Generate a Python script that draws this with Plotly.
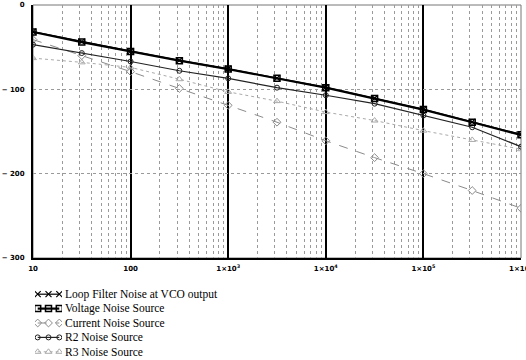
import plotly.graph_objects as go

# ---- data ----
freq = [10, 31.6, 100, 316, 1000, 3162, 10000, 31623, 100000, 316228, 1000000]
loop_filter_vco = [-31.5, -43.5, -54.6, -65.6, -75.6, -86.7, -97.7, -110.6, -123.6, -138.6, -153.5]
voltage_noise = [-32, -44, -55, -66, -76, -87, -98, -111, -124, -139, -154]
current_noise = [-41, -60, -79, -99, -119, -139, -161, -181, -200, -220, -241]
r2_noise = [-47, -57, -67, -78, -87, -98, -107, -117, -131, -145, -168]
r3_noise = [-63, -68, -74, -88, -103, -114, -127, -137, -149, -160, -171]

names = ["Loop Filter Noise at VCO output", "Voltage Noise Source",
         "Current Noise Source", "R2 Noise Source", "R3 Noise Source"]
x_tickvals = [10, 100, 1e3, 1e4, 1e5, 1e6]
x_ticktext = ["10", "100", "1×10<sup>3</sup>", "1×10<sup>4</sup>",
              "1×10<sup>5</sup>", "1×10<sup>6</sup>"]
y_tickvals = [0, -100, -200, -300]
y_ticktext = ["0", "− 100", "− 200", "− 300"]

series = [loop_filter_vco, voltage_noise, current_noise, r2_noise, r3_noise]
styles = [
    dict(line=dict(color="black", width=1.2),
         marker=dict(symbol="x-thin-open", size=6, line=dict(color="black", width=1.2))),
    dict(line=dict(color="black", width=2.2),
         marker=dict(symbol="square-open", size=6, color="black", line=dict(color="black", width=1.5))),
    dict(line=dict(color="#8a8a8a", width=1, dash="dash"),
         marker=dict(symbol="diamond-open", size=6, color="#8a8a8a", line=dict(color="#8a8a8a", width=1))),
    dict(line=dict(color="#222222", width=1.2),
         marker=dict(symbol="circle-open", size=5, color="#222222", line=dict(color="#222222", width=1))),
    dict(line=dict(color="#aaaaaa", width=1, dash="dot"),
         marker=dict(symbol="triangle-up-open", size=6, color="#aaaaaa", line=dict(color="#aaaaaa", width=1))),
]

fig = go.Figure()
# draw order: lower series first, total last
for idx in [4, 2, 3, 1, 0]:
    fig.add_trace(go.Scatter(x=freq, y=series[idx], mode="lines+markers",
                             name=names[idx], showlegend=False,
                             xaxis="x", yaxis="y", **styles[idx]))

# legend keys on a hidden helper axis
for i, st in enumerate(styles):
    fig.add_trace(go.Scatter(x=[0.1, 0.5, 0.9], y=[i, i, i], mode="lines+markers",
                             showlegend=False, hoverinfo="skip",
                             xaxis="x2", yaxis="y2", **st))
    fig.add_annotation(text=names[i], xref="paper", yref="y2",
                       x=(63 - 33) / 488, y=i, xanchor="left", yanchor="middle",
                       showarrow=False,
                       font=dict(family="Liberation Serif", size=11.5, color="black"))

W, H = 526, 360
ml, mr, mt, mb = 33, 5, 5, 0
ph = H - mt - mb
plot_bottom = 258
y_dom0 = (H - plot_bottom) / ph

tick_font = dict(family="DejaVu Sans", size=7, color="black", weight="bold")

fig.update_layout(
    width=W, height=H, autosize=False,
    margin=dict(l=ml, r=mr, t=mt, b=mb, autoexpand=False),
    paper_bgcolor="white", plot_bgcolor="white",
    showlegend=False,
    xaxis=dict(type="log", range=[1, 6], domain=[0, 1], anchor="y",
               tickvals=x_tickvals, ticktext=x_ticktext,
               showgrid=True, gridcolor="black", gridwidth=1.6,
               minor=dict(dtick="D1", showgrid=True, gridcolor="#9a9a9a",
                          griddash="dot", gridwidth=1, ticks=""),
               showline=True, linecolor="black", linewidth=2,
               ticks="outside", ticklen=3, tickcolor="white",
               tickfont=tick_font, automargin=False, ticklabeloverflow="allow",
               zeroline=False),
    yaxis=dict(range=[-300, 0], domain=[y_dom0, 1], anchor="x",
               tickvals=y_tickvals, ticktext=y_ticktext,
               showgrid=True, gridcolor="#9a9a9a", griddash="dot", gridwidth=1,
               showline=True, linecolor="black", linewidth=2,
               ticks="outside", ticklen=5, tickcolor="white",
               tickfont=tick_font, automargin=False, ticklabeloverflow="allow",
               zeroline=False),
    xaxis2=dict(domain=[(35 - 33) / 488, (62 - 33) / 488], range=[0, 1],
                anchor="y2", visible=False, fixedrange=True, automargin=False),
    yaxis2=dict(domain=[(H - 359) / ph, (H - 287) / ph], range=[4.5, -0.5],
                anchor="x2", visible=False, fixedrange=True, automargin=False),
    shapes=[dict(type="rect", xref="x domain", yref="y domain",
                 x0=0, x1=1, y0=0, y1=1,
                 line=dict(color="#777777", width=1), layer="below")],
)

fig.write_html("out.html")
